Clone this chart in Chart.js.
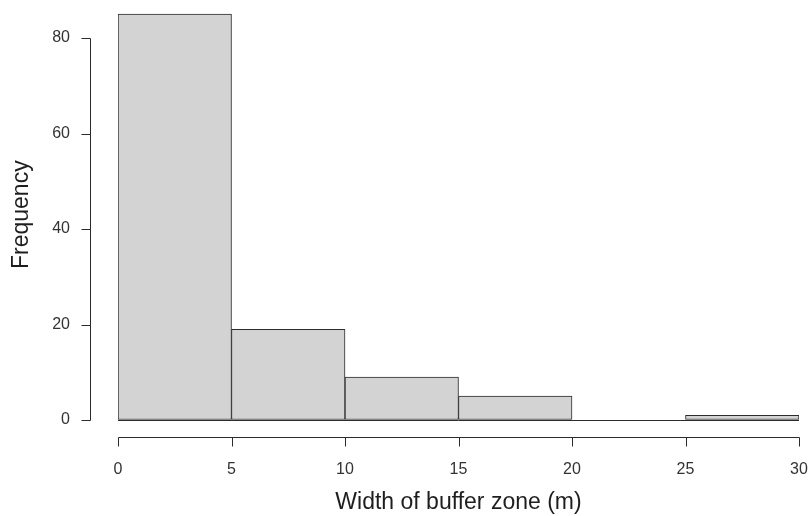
<!DOCTYPE html>
<html>
<head>
<meta charset="utf-8">
<script src="https://cdn.jsdelivr.net/npm/chart.js@4/dist/chart.umd.min.js"></script>
<style>
  html, body { margin: 0; padding: 0; background: #fff; }
  #wrap { width: 809px; height: 516px; }
</style>
</head>
<body>
<div id="wrap"><canvas id="c" width="809" height="516"></canvas></div>
<script>
// ---- data ----
const binStarts = [0, 5, 10, 15, 20, 25];
const binEnds   = [5, 10, 15, 20, 25, 30];
const counts    = [85, 19, 9, 5, 0, 1];
const xTickValues = [0, 5, 10, 15, 20, 25, 30];
const yTickValues = [0, 20, 40, 60, 80];
const xTitle = 'Width of buffer zone (m)';
const yTitle = 'Frequency';

const FONT = '"Liberation Sans", Arial, sans-serif';
const AXIS_COLOR = '#2b2b2b';

const barData = binStarts.map((s, i) => ({ x: (s + binEnds[i]) / 2, y: counts[i] }));

// R-style detached axes drawn from the chart's own scales
const rAxes = {
  id: 'rAxes',
  afterDraw(chart) {
    const ctx = chart.ctx;
    const xs = chart.scales.x, ys = chart.scales.y;
    const yAxisX = xs.getPixelForValue(xTickValues[0]) - 28;
    const xAxisY = ys.getPixelForValue(yTickValues[0]) + 17;
    ctx.save();
    ctx.strokeStyle = AXIS_COLOR;
    ctx.lineWidth = 1;
    ctx.beginPath();
    // y axis
    const yTop = Math.round(ys.getPixelForValue(yTickValues[yTickValues.length - 1])) + 0.5;
    const yBot = Math.round(ys.getPixelForValue(yTickValues[0])) + 0.5;
    const ax = Math.round(yAxisX) + 0.5;
    ctx.moveTo(ax, yTop); ctx.lineTo(ax, yBot);
    yTickValues.forEach(v => {
      const p = Math.round(ys.getPixelForValue(v)) + 0.5;
      ctx.moveTo(ax, p); ctx.lineTo(ax - 9, p);
    });
    // x axis
    const ay = Math.round(xAxisY) + 0.5;
    const xl = Math.round(xs.getPixelForValue(xTickValues[0])) + 0.5;
    const xr = Math.round(xs.getPixelForValue(xTickValues[xTickValues.length - 1])) + 0.5;
    ctx.moveTo(xl, ay); ctx.lineTo(xr, ay);
    xTickValues.forEach(v => {
      const p = Math.round(xs.getPixelForValue(v)) + 0.5;
      ctx.moveTo(p, ay); ctx.lineTo(p, ay + 9);
    });
    ctx.stroke();
    ctx.restore();
  }
};

new Chart(document.getElementById('c'), {
  type: 'bar',
  data: {
    datasets: [{
      data: barData,
      backgroundColor: '#d3d3d3',
      borderColor: AXIS_COLOR,
      borderWidth: 1,
      borderSkipped: false,
      barPercentage: 1,
      categoryPercentage: 1
    }]
  },
  options: {
    responsive: false,
    devicePixelRatio: 1,
    animation: false,
    layout: { padding: { top: 9.35, right: 10, left: 0, bottom: 0 } },
    plugins: { legend: { display: false }, tooltip: { enabled: false } },
    scales: {
      x: {
        type: 'linear',
        offset: false,
        min: 0,
        max: 30,
        afterBuildTicks: s => { s.ticks = xTickValues.map(v => ({ value: v })); },
        afterFit: s => { s.height = 96; s.paddingLeft = 0; s.paddingRight = 0; },
        grid: { display: false },
        border: { display: false },
        ticks: { padding: 32, color: '#333', font: { family: FONT, size: 16 }, maxRotation: 0, autoSkip: false },
        title: { display: true, text: xTitle, color: '#1e1e1e', font: { family: FONT, size: 23 }, padding: { top: 0, bottom: 0 } }
      },
      y: {
        type: 'linear',
        min: 0,
        max: 86,
        afterBuildTicks: s => { s.ticks = yTickValues.map(v => ({ value: v })); },
        afterFit: s => { s.width = 118; s.paddingTop = 0; s.paddingBottom = 0; },
        grid: {
          drawTicks: false,
          color: c => (c.tick && c.tick.value === 0 ? AXIS_COLOR : 'rgba(0,0,0,0)'),
          lineWidth: 1
        },
        border: { display: false },
        ticks: { padding: 48, color: '#333', font: { family: FONT, size: 16 } },
        title: { display: true, text: yTitle, color: '#1e1e1e', font: { family: FONT, size: 23 }, padding: { top: 8, bottom: 0 } }
      }
    }
  },
  plugins: [rAxes]
});
</script>
</body>
</html>
